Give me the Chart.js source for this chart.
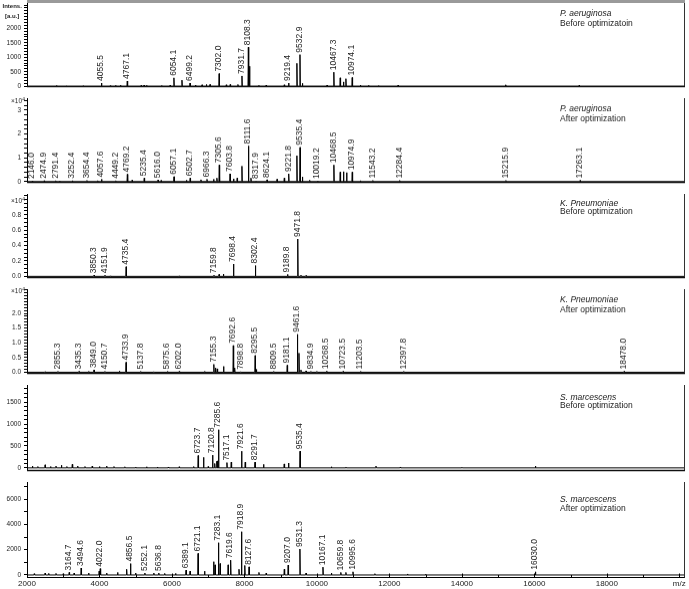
<!DOCTYPE html>
<html>
<head>
<meta charset="utf-8">
<script src="https://cdn.jsdelivr.net/npm/chart.js@4.4.0/dist/chart.umd.min.js"></script>
<style>
  html, body { margin: 0; padding: 0; background: #fff; }
  #wrap { position: relative; width: 689px; height: 589px; overflow: hidden; }
</style>
</head>
<body>
<div id="wrap"></div>
<script>
// m/z range of every panel
const X_MIN = 2000;
const X_MAX = 20130;

// P. aeruginosa, before optimization (labelled peaks + unlabelled ones)
const paBeforeMass = [4055.5, 4767.1, 6054.1, 6499.2, 7302.0, 7931.7, 8108.3, 9219.4, 9532.9, 10467.3, 10974.1];
const paBeforeInt = [110, 180, 290, 110, 435, 355, 1345, 110, 1090, 485, 300];
const paBeforeMinorMass = [2820, 3100, 3550, 4300, 4450, 4580, 5150, 5230, 5300, 5720, 5950, 6276, 6650, 6830, 6950, 7050, 7500, 7608, 7820, 8141, 8400, 8600, 9100, 9448, 9600, 10280, 10643, 10734, 10800, 11200, 11430, 11700, 12240, 15210, 17236];
const paBeforeMinorInt = [25, 15, 15, 20, 30, 35, 30, 40, 30, 25, 40, 210, 40, 50, 60, 60, 50, 60, 60, 690, 30, 40, 50, 790, 100, 40, 290, 150, 260, 40, 30, 20, 40, 50, 30];

// P. aeruginosa, after optimization
const paAfterMass = [2146.0, 2474.9, 2791.4, 3252.4, 3654.4, 4057.6, 4449.2, 4769.2, 5235.4, 5616.0, 6057.1, 6502.7, 6966.3, 7305.6, 7603.8, 8111.6, 8317.9, 8624.1, 9221.8, 9535.4, 10019.2, 10468.5, 10974.9, 11543.2, 12284.4, 15215.9, 17263.1];
const paAfterInt = [300, 400, 400, 400, 500, 1000, 400, 3100, 1500, 700, 2100, 1500, 1000, 7000, 3300, 15000, 300, 800, 3300, 14400, 300, 7000, 4000, 500, 500, 500, 500];
const paAfterMinorMass = [2900, 3950, 4900, 5700, 6400, 6800, 7150, 7240, 7700, 7800, 7931, 8180, 8900, 9100, 9448, 9600, 9800, 10643, 10734, 10820, 11200];
const paAfterMinorInt = [300, 400, 600, 500, 600, 800, 1000, 1500, 1200, 1500, 6500, 1500, 1000, 1500, 10900, 2000, 600, 4000, 4200, 3800, 400];

// K. pneumoniae, before optimization
const kpBeforeMass = [3850.3, 4151.9, 4735.4, 7159.8, 7698.4, 8302.4, 9189.8, 9471.8];
const kpBeforeInt = [150, 150, 1250, 150, 1600, 1400, 250, 4850];
const kpBeforeMinorMass = [4300, 6200, 7300, 7420, 9560, 9700];
const kpBeforeMinorInt = [60, 60, 250, 300, 150, 100];

// K. pneumoniae, after optimization
const kpAfterMass = [2855.3, 3435.3, 3849.0, 4150.7, 4733.9, 5137.8, 5875.6, 6202.0, 7155.3, 7692.6, 7898.8, 8295.5, 8809.5, 9181.1, 9461.6, 9834.9, 10268.5, 10723.5, 11203.5, 12397.8, 18478.0];
const kpAfterInt = [300, 300, 800, 300, 3400, 300, 300, 300, 2700, 9100, 200, 5700, 300, 2400, 12900, 300, 400, 300, 300, 300, 300];
const kpAfterMinorMass = [2500, 3700, 4550, 5500, 6900, 7200, 7250, 7424, 7730, 8330, 9505, 9560, 9700, 10000];
const kpAfterMinorInt = [200, 300, 400, 200, 300, 1500, 1200, 2000, 1500, 1000, 6500, 800, 500, 300];

// S. marcescens, before optimization
const smBeforeMass = [6723.7, 7120.8, 7285.6, 7517.1, 7921.6, 8291.7, 9535.4];
const smBeforeInt = [280, 290, 870, 120, 380, 130, 380];
const smBeforeMinorMass = [2150, 2300, 2500, 2650, 2800, 2950, 3100, 3250, 3400, 3600, 3800, 4000, 4200, 4400, 4700, 5000, 5300, 5600, 5900, 6200, 6600, 6872, 7000, 7180, 7236, 7260, 7636, 8022, 8528, 9098, 9217, 10400, 10800, 11630, 12300, 14000, 16030];
const smBeforeMinorInt = [40, 30, 70, 30, 40, 60, 30, 80, 40, 30, 40, 30, 40, 30, 25, 20, 25, 20, 20, 25, 30, 240, 30, 100, 150, 160, 130, 130, 80, 90, 110, 25, 20, 40, 20, 15, 40];

// S. marcescens, after optimization
const smAfterMass = [3164.7, 3494.6, 4022.0, 4856.5, 5252.1, 5636.8, 6389.1, 6721.1, 7283.1, 7619.6, 7918.9, 8127.6, 9207.0, 9531.3, 10167.1, 10659.8, 10995.6, 16030.0];
const smAfterInt = [200, 550, 500, 900, 150, 150, 380, 1700, 2550, 1170, 3420, 640, 780, 2050, 620, 200, 250, 250];
const smAfterMinorMass = [2200, 2500, 2600, 2800, 3000, 3300, 3700, 3990, 4200, 4500, 4750, 5000, 5500, 5800, 6100, 6500, 6900, 7150, 7190, 7330, 7550, 7850, 8010, 8400, 8600, 9100, 9700, 10400, 10800, 11600, 12500, 13000];
const smAfterMinorInt = [100, 150, 120, 120, 100, 150, 150, 300, 150, 200, 450, 150, 150, 120, 120, 300, 300, 1050, 800, 900, 800, 450, 750, 200, 150, 450, 150, 150, 200, 100, 80, 60];

const FONT = '"Liberation Sans", Arial, sans-serif';
const PEAK_HALF_WIDTH = 10;
const PAD = 8;
Chart.defaults.font.family = FONT;

const panels = [
  { species: 'P. aeruginosa', state: 'Before optimizatoin', mass: paBeforeMass, inten: paBeforeInt, minorMass: paBeforeMinorMass, minorInt: paBeforeMinorInt,
    top: 3, bottom: 98, min: -9, max: 2870, step: 100, major: 500, labelMax: 2000, fmt: v => String(v), textY: [14, 24], expY: null },
  { species: 'P. aeruginosa', state: 'After optimization', mass: paAfterMass, inten: paAfterInt, minorMass: paAfterMinorMass, minorInt: paAfterMinorInt,
    top: 98, bottom: 193.5, min: -300, max: 35070, step: 2000, major: 10000, labelMax: 30000, fmt: v => String(v / 10000), textY: [109, 119], expY: 101.7 },
  { species: 'K. Pneumoniae', state: 'Before optimization', mass: kpBeforeMass, inten: kpBeforeInt, minorMass: kpBeforeMinorMass, minorInt: kpBeforeMinorInt,
    top: 193.5, bottom: 289, min: -150, max: 10700, step: 500, major: 2000, labelMax: 8000, fmt: v => (v / 10000).toFixed(1), textY: [202.7, 211.5], expY: 200.7 },
  { species: 'K. Pneumoniae', state: 'After optimization', mass: kpAfterMass, inten: kpAfterInt, minorMass: kpAfterMinorMass, minorInt: kpAfterMinorInt,
    top: 289, bottom: 384.5, min: -360, max: 28230, step: 1000, major: 5000, labelMax: 20000, fmt: v => (v / 10000).toFixed(1), textY: [300, 310], expY: 291.7 },
  { species: 'S. marcescens', state: 'Before optimization', mass: smBeforeMass, inten: smBeforeInt, minorMass: smBeforeMinorMass, minorInt: smBeforeMinorInt,
    top: 384.5, bottom: 482, min: -60, max: 1890, step: 100, major: 500, labelMax: 1500, fmt: v => String(v), textY: [396.7, 405], expY: null },
  { species: 'S. marcescens', state: 'After optimization', mass: smAfterMass, inten: smAfterInt, minorMass: smAfterMinorMass, minorInt: smAfterMinorInt,
    top: 482, bottom: 577.5, min: -200, max: 7350, step: 1000, major: 2000, labelMax: 6000, fmt: v => String(v), textY: [500, 509], expY: null }
];

// turn the peak lists into a stick spectrum
function sticks(p) {
  const peaks = p.mass.map((m, i) => [m, p.inten[i]])
    .concat(p.minorMass.map((m, i) => [m, p.minorInt[i]]))
    .sort((a, b) => a[0] - b[0]);
  const pts = [{ x: X_MIN, y: 0 }];
  peaks.forEach(([m, h]) => {
    pts.push({ x: m - PEAK_HALF_WIDTH, y: 0 }, { x: m, y: h }, { x: m + PEAK_HALF_WIDTH, y: 0 });
  });
  pts.push({ x: X_MAX, y: 0 });
  return pts;
}

// evenly spaced tick values between min and max
function tickList(min, max, step) {
  const out = [];
  for (let v = Math.ceil(min / step) * step; v <= max; v += step) out.push({ value: v });
  return out;
}

// frame, peak labels and panel captions
function makeDecor(p, idx, last, canvasTop) {
  return {
    id: 'panelDecor' + idx,
    afterDatasetsDraw(chart) {
      const { ctx, chartArea: a, scales: { x, y } } = chart;
      const cy = v => v - canvasTop;
      ctx.save();
      ctx.strokeStyle = '#333';
      ctx.lineWidth = 1;
      ctx.beginPath();
      ctx.moveTo(a.right + 0.5, a.top);
      ctx.lineTo(a.right + 0.5, a.bottom);
      ctx.stroke();
      if (idx === 0) {
        ctx.fillStyle = '#9a9a9a';
        ctx.fillRect(a.left, a.top - 3, a.right - a.left + 1, 3);
      }
      if (!last) {
        ctx.strokeStyle = '#111';
        ctx.lineWidth = 1.6;
        ctx.beginPath();
        ctx.moveTo(a.left, a.bottom);
        ctx.lineTo(a.right + 1, a.bottom);
        ctx.stroke();
      } else {
        ctx.strokeStyle = '#000';
        ctx.lineWidth = 1;
        for (let v = 2000; v <= 20000; v += 1000) {
          const px = Math.round(x.getPixelForValue(v)) + 0.5;
          ctx.beginPath();
          ctx.moveTo(px, a.bottom);
          ctx.lineTo(px, a.bottom - (v % 2000 === 0 ? 4 : 2.5));
          ctx.stroke();
        }
      }

      // peak labels, written upward from just above each peak
      ctx.fillStyle = '#222';
      ctx.font = '8.5px ' + FONT;
      ctx.textAlign = 'left';
      ctx.textBaseline = 'middle';
      p.mass.forEach((m, i) => {
        const px = x.getPixelForValue(m);
        const py = y.getPixelForValue(p.inten[i]);
        ctx.save();
        ctx.translate(px - 0.5, py - 2);
        ctx.rotate(-Math.PI / 2);
        ctx.fillText(m.toFixed(1), 0, 0);
        ctx.restore();
      });

      // species + condition
      ctx.font = 'italic 8.5px ' + FONT;
      ctx.fillText(p.species, 560, cy(p.textY[0]));
      ctx.font = '8.5px ' + FONT;
      ctx.fillText(p.state, 560, cy(p.textY[1]));

      // axis captions
      if (p.expY !== null) {
        ctx.textAlign = 'right';
        ctx.font = '6.5px ' + FONT;
        ctx.fillText('×10', 22, cy(p.expY));
        ctx.textAlign = 'left';
        ctx.font = '5px ' + FONT;
        ctx.fillText('4', 22.3, cy(p.expY) - 2);
      }
      if (idx === 0) {
        ctx.textAlign = 'left';
        ctx.font = 'bold 6px ' + FONT;
        ctx.fillText('Intens.', 2.5, cy(6.7));
        ctx.fillText('[a.u.]', 5, cy(16));
      }
      ctx.restore();
    }
  };
}

const wrap = document.getElementById('wrap');
panels.forEach((p, idx) => {
  const last = idx === panels.length - 1;
  const canvasTop = p.top - PAD;
  const canvasH = last ? 589 - canvasTop : (p.bottom - p.top) + 2 * PAD;
  const canvas = document.createElement('canvas');
  canvas.width = 689;
  canvas.height = canvasH;
  canvas.style.cssText = 'position:absolute;left:0;top:' + canvasTop + 'px;width:689px;height:' + canvasH + 'px;';
  wrap.appendChild(canvas);

  new Chart(canvas, {
    type: 'line',
    data: {
      datasets: [{
        data: sticks(p),
        borderColor: '#000',
        borderWidth: 1,
        pointRadius: 0,
        tension: 0,
        fill: false
      }]
    },
    options: {
      responsive: false,
      animation: false,
      devicePixelRatio: 1,
      layout: { padding: { top: PAD, bottom: last ? 0 : PAD, left: 0, right: 5 } },
      plugins: { legend: { display: false }, tooltip: { enabled: false } },
      scales: {
        x: {
          type: 'linear',
          min: X_MIN,
          max: X_MAX,
          display: last,
          afterBuildTicks: s => { s.ticks = tickList(X_MIN, 20000, 1000); },
          afterFit: s => { s.height = 589 - 577.5; },
          border: { display: true, color: '#000', width: 1 },
          grid: { drawOnChartArea: false, drawTicks: false },
          ticks: {
            autoSkip: false, maxRotation: 0, minRotation: 0, padding: 1,
            color: '#222', font: { size: 8 },
            callback: v => v % 2000 === 0 ? (v === 20000 ? 'm/z' : String(v)) : ''
          }
        },
        y: {
          type: 'linear',
          min: p.min,
          max: p.max,
          afterBuildTicks: s => { s.ticks = tickList(p.min, p.max, p.step); },
          afterFit: s => { s.width = 27; },
          border: { display: true, color: '#000', width: 1 },
          grid: { drawOnChartArea: false, drawTicks: true, tickLength: 3, color: '#000' },
          ticks: {
            autoSkip: false, padding: 3,
            color: '#222', font: { size: 6.5 },
            callback: v => (v % p.major === 0 && v <= p.labelMax) ? p.fmt(v) : ''
          }
        }
      }
    },
    plugins: [makeDecor(p, idx, last, canvasTop)]
  });
});
</script>
</body>
</html>
